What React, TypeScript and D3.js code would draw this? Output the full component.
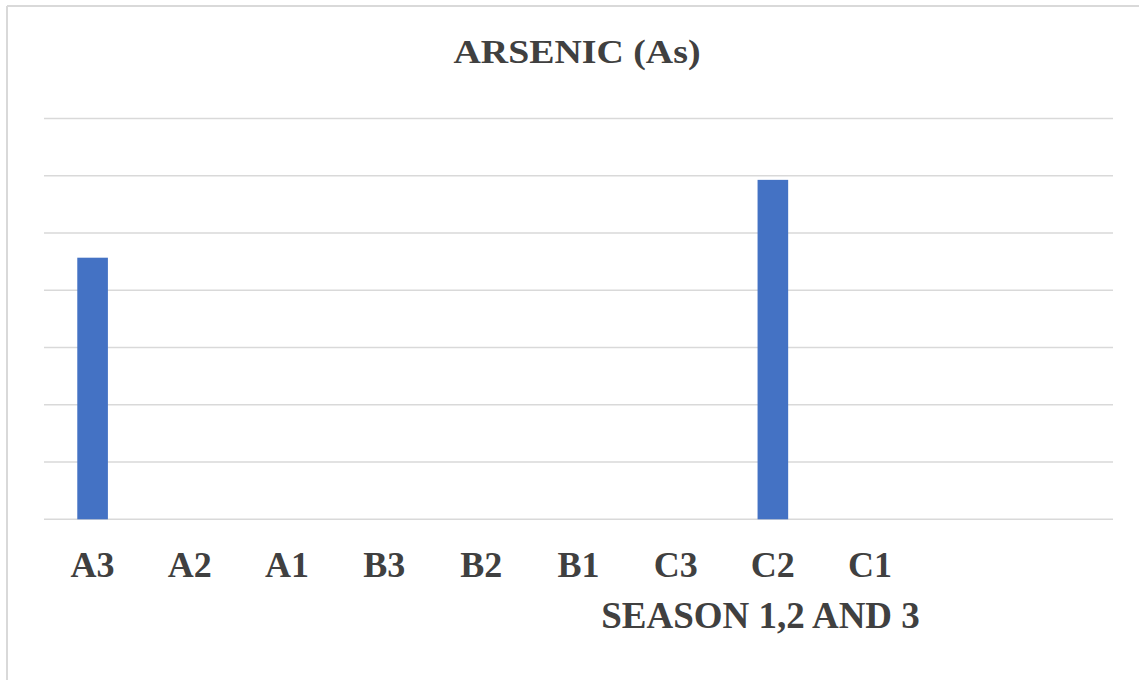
import React from "react";
import * as d3 from "d3";

const categories = ["A3", "A2", "A1", "B3", "B2", "B1", "C3", "C2", "C1", "", " "];
const values = [0.00457, 0, 0, 0, 0, 0, 0, 0.00593, 0, 0, 0];
const yTicks = [0, 0.001, 0.002, 0.003, 0.004, 0.005, 0.006, 0.007];
const title = "ARSENIC (As)";
const xTitle = "SEASON 1,2 AND 3";

const W = 1139;
const H = 680;
const plot = { left: 44, right: 1113, top: 118.6, bottom: 519.3 };
const font = "'Liberation Serif', 'Times New Roman', serif";
const textColor = "#404040";

export default function App() {
  const x = d3
    .scaleBand<string>()
    .domain(categories)
    .range([plot.left, plot.right])
    .paddingInner(0.685)
    .paddingOuter(0.3425);
  const y = d3.scaleLinear().domain([0, 0.007]).range([plot.bottom, plot.top]);

  return (
    <svg
      width={W}
      height={H}
      style={{ position: "absolute", left: 0, top: 0, background: "#fff" }}
    >
      <rect x={0} y={0} width={W} height={H} fill="#fff" />
      <line x1={7} y1={6} x2={W} y2={6} stroke="#d9d9d9" strokeWidth={2} />
      <line x1={7} y1={6} x2={7} y2={H} stroke="#d9d9d9" strokeWidth={2} />
      <text
        x={577}
        y={63}
        textAnchor="middle"
        fontFamily={font}
        fontWeight="bold"
        fontSize={34}
        fill={textColor}
        textLength={247}
        lengthAdjust="spacingAndGlyphs"
      >
        {title}
      </text>
      {yTicks.map((t) => (
        <line
          key={t}
          x1={plot.left}
          x2={plot.right}
          y1={y(t)}
          y2={y(t)}
          stroke="#d9d9d9"
          strokeWidth={1.5}
        />
      ))}
      {categories.map((c, i) =>
        values[i] > 0 ? (
          <rect
            key={"b" + i}
            x={x(c)!}
            y={y(values[i])}
            width={x.bandwidth()}
            height={y(0) - y(values[i])}
            fill="#4472C4"
          />
        ) : null
      )}
      {categories.map((c, i) => (
        <text
          key={"t" + i}
          x={x(c)! + x.bandwidth() / 2}
          y={577}
          textAnchor="middle"
          fontFamily={font}
          fontWeight="bold"
          fontSize={36}
          fill={textColor}
        >
          {c.trim()}
        </text>
      ))}
      <text
        x={760.5}
        y={628}
        textAnchor="middle"
        fontFamily={font}
        fontWeight="bold"
        fontSize={37}
        fill={textColor}
      >
        {xTitle}
      </text>
    </svg>
  );
}
